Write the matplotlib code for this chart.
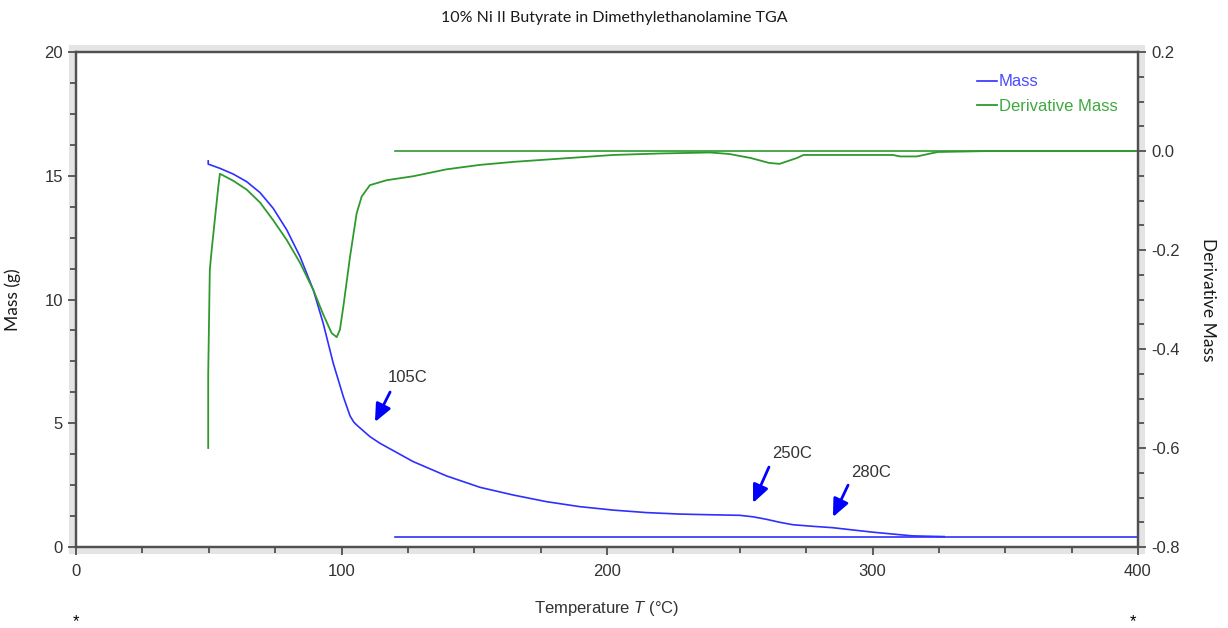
import matplotlib
matplotlib.use("Agg")
import matplotlib.pyplot as plt
from matplotlib.patches import Rectangle
from matplotlib.ticker import MultipleLocator

# ---------------- data ----------------
mass_T = [49.8, 49.8, 54.2, 59.2, 64.3, 69.3, 74.3, 79.4, 84.4, 89.4, 93.1,
          96.9, 100.7, 103.2, 104.6, 105.7, 110.7, 114.5, 127.0, 139.6, 152.2,
          164.7, 177.3, 189.8, 202.4, 214.9, 227.5, 240.0, 250.0, 255.0, 260.0,
          265.0, 270.0, 277.0, 285.0, 300.0, 315.0, 327.0]
mass_g = [15.60, 15.47, 15.30, 15.07, 14.76, 14.32, 13.68, 12.81, 11.73, 10.38,
          9.04, 7.42, 6.07, 5.30, 5.05, 4.93, 4.46, 4.19, 3.45, 2.87, 2.41,
          2.10, 1.83, 1.63, 1.49, 1.39, 1.33, 1.30, 1.28, 1.22, 1.12, 1.00,
          0.90, 0.84, 0.78, 0.60, 0.45, 0.42]
mass_base_T = [120, 400]
mass_base_g = [0.42, 0.42]

deriv_T = [49.8, 49.8, 50.4, 51.1, 52.4, 53.6, 54.2, 59.2, 64.3, 69.3, 74.3,
           79.4, 84.4, 89.4, 93.1, 96.3, 98.2, 99.4, 100.7, 103.2, 105.7,
           107.6, 110.7, 117.0, 127.0, 139.6, 152.2, 164.7, 183.5, 202.4,
           220.0, 238.8, 246.0, 254.0, 261.0, 265.0, 271.6, 274.0, 307.7,
           310.4, 316.7, 322.8, 324.7, 345.0, 400.0]
deriv_v = [-0.600, -0.450, -0.240, -0.200, -0.133, -0.072, -0.046, -0.060,
           -0.078, -0.104, -0.140, -0.180, -0.226, -0.281, -0.330, -0.368,
           -0.376, -0.361, -0.314, -0.214, -0.126, -0.092, -0.069, -0.059,
           -0.051, -0.037, -0.028, -0.022, -0.015, -0.008, -0.005, -0.003,
           -0.006, -0.014, -0.024, -0.026, -0.014, -0.008, -0.008, -0.011,
           -0.011, -0.004, -0.002, 0.0, 0.0]
deriv_base_T = [120, 400]
deriv_base_v = [0.0, 0.0]

annot_labels = ["105C", "250C", "280C"]
annot_tip = [(112.6, 5.05), (255.0, 1.78), (285.1, 1.21)]
annot_tail = [(118.3, 6.26), (261.0, 3.23), (290.8, 2.5)]
annot_text = [(117.5, 6.83), (262.1, 3.76), (291.9, 2.99)]

title = "10% Ni II Butyrate in Dimethylethanolamine TGA"

# ---------------- style ----------------
plt.rcParams['font.family'] = ['Liberation Sans', 'DejaVu Sans']
plt.rcParams['mathtext.fontset'] = 'custom'
plt.rcParams['mathtext.rm'] = 'Liberation Sans'
plt.rcParams['mathtext.it'] = 'Liberation Sans:italic'

BLUE = '#2f2fff'
GREEN = '#2e9a2e'
SPINE = '#505050'
TXT = '#333333'

fig = plt.figure(figsize=(12.28, 6.28), dpi=100)
L, R, B, T = 76/1228, 1138/1228, 1-547/628, 1-52/628
ax = fig.add_axes([L, B, R-L, T-B])
ax.set_zorder(2)

# gray frame band
pad_x, pad_y = 7/1228, 7/628
fig.patches.append(Rectangle((L-pad_x, B-pad_y), (R-L)+2*pad_x, (T-B)+2*pad_y,
                             transform=fig.transFigure, facecolor='#e4e4e4',
                             edgecolor='none', zorder=0))

ax.set_xlim(0, 400)
ax.set_ylim(0, 20)
ax2 = ax.twinx()
ax2.set_ylim(-0.8, 0.2)

ax.plot(mass_T, mass_g, color=BLUE, lw=1.2, label='Mass', zorder=3)
ax.plot(mass_base_T, mass_base_g, color=BLUE, lw=1.2, zorder=3)
ax2.plot(deriv_T, deriv_v, color=GREEN, lw=1.3, label='Derivative Mass')
ax2.plot(deriv_base_T, deriv_base_v, color=GREEN, lw=1.2)

for a in (ax, ax2):
    for s in a.spines.values():
        s.set_color(SPINE)
        s.set_linewidth(1.6)
    a.tick_params(which='both', direction='out', color=SPINE, width=1.3,
                  labelsize=12, labelcolor=TXT)
    a.tick_params(which='major', length=6)
    a.tick_params(which='minor', length=4)

ax.xaxis.set_major_locator(MultipleLocator(100))
ax.xaxis.set_minor_locator(MultipleLocator(25))
ax.yaxis.set_major_locator(MultipleLocator(5))
ax.yaxis.set_minor_locator(MultipleLocator(1.25))
ax2.yaxis.set_minor_locator(MultipleLocator(0.05))
ax2.set_yticks([0.2, 0.0, -0.2, -0.4, -0.6, -0.8])
ax2.set_yticklabels(['0.2', '0.0', '-0.2', '-0.4', '-0.6', '-0.8'])
ax.tick_params(axis='x', pad=6)

ax.set_xlabel('Temperature $T$ (°C)', fontsize=12, color=TXT)
ax.xaxis.set_label_coords(0.5, -0.105)
ax.set_ylabel('Mass (g)', fontsize=12.5, family=['Lato', 'DejaVu Sans'], color='#1a1a1a')
ax.yaxis.set_label_coords(-0.052, 0.5)
ax2.set_ylabel('Derivative Mass', fontsize=12.5, family=['Lato', 'DejaVu Sans'],
               color='#1a1a1a', rotation=-90, va='center')
ax2.yaxis.set_label_coords(1.066, 0.5)

fig.text(614/1228, 1-18/628, title, ha='center', va='center', fontsize=11.5,
         family=['Lato', 'DejaVu Sans'], color='#1a1a1a')

for lab, tip, tail, txt in zip(annot_labels, annot_tip, annot_tail, annot_text):
    ax.annotate('', xy=tip, xytext=tail,
                arrowprops=dict(arrowstyle='-|>,head_length=0.9,head_width=0.4',
                                color='#0000ff', lw=2, shrinkA=0, shrinkB=0,
                                mutation_scale=12), zorder=4)
    ax.text(txt[0], txt[1], lab, fontsize=12, color=TXT, ha='left', va='center',
            zorder=4)

h1, l1 = ax.get_legend_handles_labels()
h2, l2 = ax2.get_legend_handles_labels()
leg = ax.legend(h1 + h2, l1 + l2, loc='upper right', frameon=False, fontsize=12,
                handlelength=1.2, handletextpad=0.1, labelspacing=0.55,
                bbox_to_anchor=(0.995, 0.985))
for t, c in zip(leg.get_texts(), ['#4a4aff', '#3fa83f']):
    t.set_color(c)

fig.text(76/1228, 1-622/628, '*', ha='center', va='center', fontsize=12)
fig.text(1133/1228, 1-622/628, '*', ha='center', va='center', fontsize=12)

fig.savefig('out.png', dpi=100, facecolor='white')
